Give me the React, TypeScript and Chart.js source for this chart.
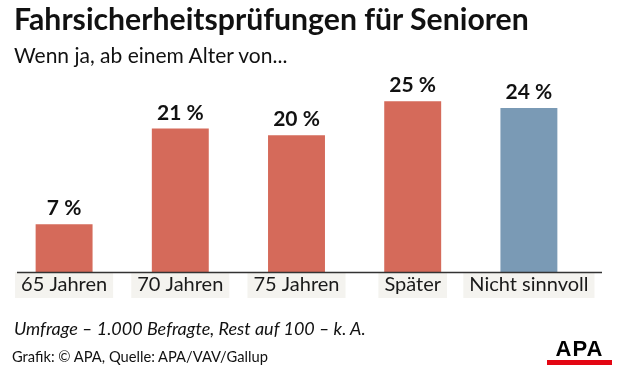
import React, { useEffect, useRef } from "react";
import { Chart, registerables } from "chart.js";

Chart.register(...registerables);

const categories = ["65 Jahren", "70 Jahren", "75 Jahren", "Später", "Nicht sinnvoll"];
const values = [7, 21, 20, 25, 24];
const barColors = ["#d56a5a", "#d56a5a", "#d56a5a", "#d56a5a", "#7a9ab5"];
const valueLabels = values.map((v) => `${v} %`);

const titleText = "Fahrsicherheitsprüfungen für Senioren";
const subtitleText = "Wenn ja, ab einem Alter von...";
const noteText = "Umfrage – 1.000 Befragte, Rest auf 100 – k. A.";
const sourceText = "Grafik: © APA, Quelle: APA/VAV/Gallup";

const FONT = "Lato, 'Noto Sans', sans-serif";

const valueLabelPlugin = {
  id: "valueLabels",
  afterDatasetsDraw(chart: any) {
    const ctx = chart.ctx;
    const meta = chart.getDatasetMeta(0);
    ctx.save();
    ctx.font = `bold 21px ${FONT}`;
    ctx.fillStyle = "#111111";
    ctx.textAlign = "center";
    ctx.textBaseline = "alphabetic";
    meta.data.forEach((el: any, i: number) => {
      ctx.fillText(valueLabels[i], el.x, el.y - 9);
    });
    ctx.restore();
  },
};

const axisLinePlugin = {
  id: "axisLine",
  afterDraw(chart: any) {
    const { ctx, chartArea } = chart;
    ctx.save();
    ctx.strokeStyle = "#333333";
    ctx.lineWidth = 1.5;
    ctx.beginPath();
    ctx.moveTo(chartArea.left + 11, chartArea.bottom + 0.5);
    ctx.lineTo(chartArea.right + 15, chartArea.bottom + 0.5);
    ctx.stroke();
    ctx.restore();
  },
};

export default function App() {
  const canvasRef = useRef<HTMLCanvasElement | null>(null);

  useEffect(() => {
    if (!canvasRef.current) return;
    const chart = new Chart(canvasRef.current, {
      type: "bar",
      data: {
        labels: categories,
        datasets: [
          {
            data: values,
            backgroundColor: barColors,
            borderWidth: 0,
            categoryPercentage: 1,
            barPercentage: 0.49,
          },
        ],
      },
      options: {
        animation: false,
        responsive: false,
        maintainAspectRatio: false,
        layout: { padding: { left: 6, right: 33, top: 67, bottom: 80 } },
        plugins: {
          legend: { display: false },
          tooltip: { enabled: false },
          title: { display: false },
        },
        scales: {
          x: {
            grid: { display: false, drawTicks: false },
            border: { display: false },
            ticks: {
              color: "#1a1a1a",
              font: { family: FONT, size: 20 },
              padding: 1,
              maxRotation: 0,
              autoSkip: false,
              showLabelBackdrop: true,
              backdropColor: "#f4f3ef",
              backdropPadding: { x: 6, y: 6.5 },
            },
          },
          y: {
            display: false,
            min: 0,
            max: 30,
          },
        },
      },
      plugins: [valueLabelPlugin, axisLinePlugin],
    });
    return () => chart.destroy();
  }, []);

  const base: React.CSSProperties = {
    position: "absolute",
    left: 14,
    whiteSpace: "nowrap",
    fontFamily: FONT,
    color: "#111111",
    margin: 0,
  };

  return (
    <div
      style={{
        position: "fixed",
        left: 0,
        top: 0,
        width: 620,
        height: 378,
        background: "#ffffff",
        overflow: "hidden",
      }}
    >
      <canvas
        ref={canvasRef}
        width={620}
        height={378}
        style={{ position: "absolute", left: 0, top: 0, width: 620, height: 378 }}
      />
      <div style={{ ...base, top: 0.2, fontSize: 30.2, lineHeight: "36.24px", fontWeight: 700 }}>
        {titleText}
      </div>
      <div style={{ ...base, top: 42.3, fontSize: 21, lineHeight: "25.2px" }}>{subtitleText}</div>
      <div style={{ ...base, top: 317.5, fontSize: 18, lineHeight: "21.6px", fontStyle: "italic" }}>
        {noteText}
      </div>
      <div style={{ ...base, left: 12, top: 347.5, fontSize: 14.7, lineHeight: "17.64px" }}>{sourceText}</div>
      <div
        style={{
          position: "absolute",
          left: 547,
          top: 338,
          width: 65,
          textAlign: "center",
          fontFamily: "'Liberation Sans', Arial, sans-serif",
          fontWeight: 700,
          fontSize: 22,
          lineHeight: "22px",
          letterSpacing: 1,
          color: "#000000",
        }}
      >
        APA
      </div>
      <div
        style={{
          position: "absolute",
          left: 547,
          top: 360,
          width: 65,
          height: 5,
          background: "#e30613",
        }}
      />
    </div>
  );
}
